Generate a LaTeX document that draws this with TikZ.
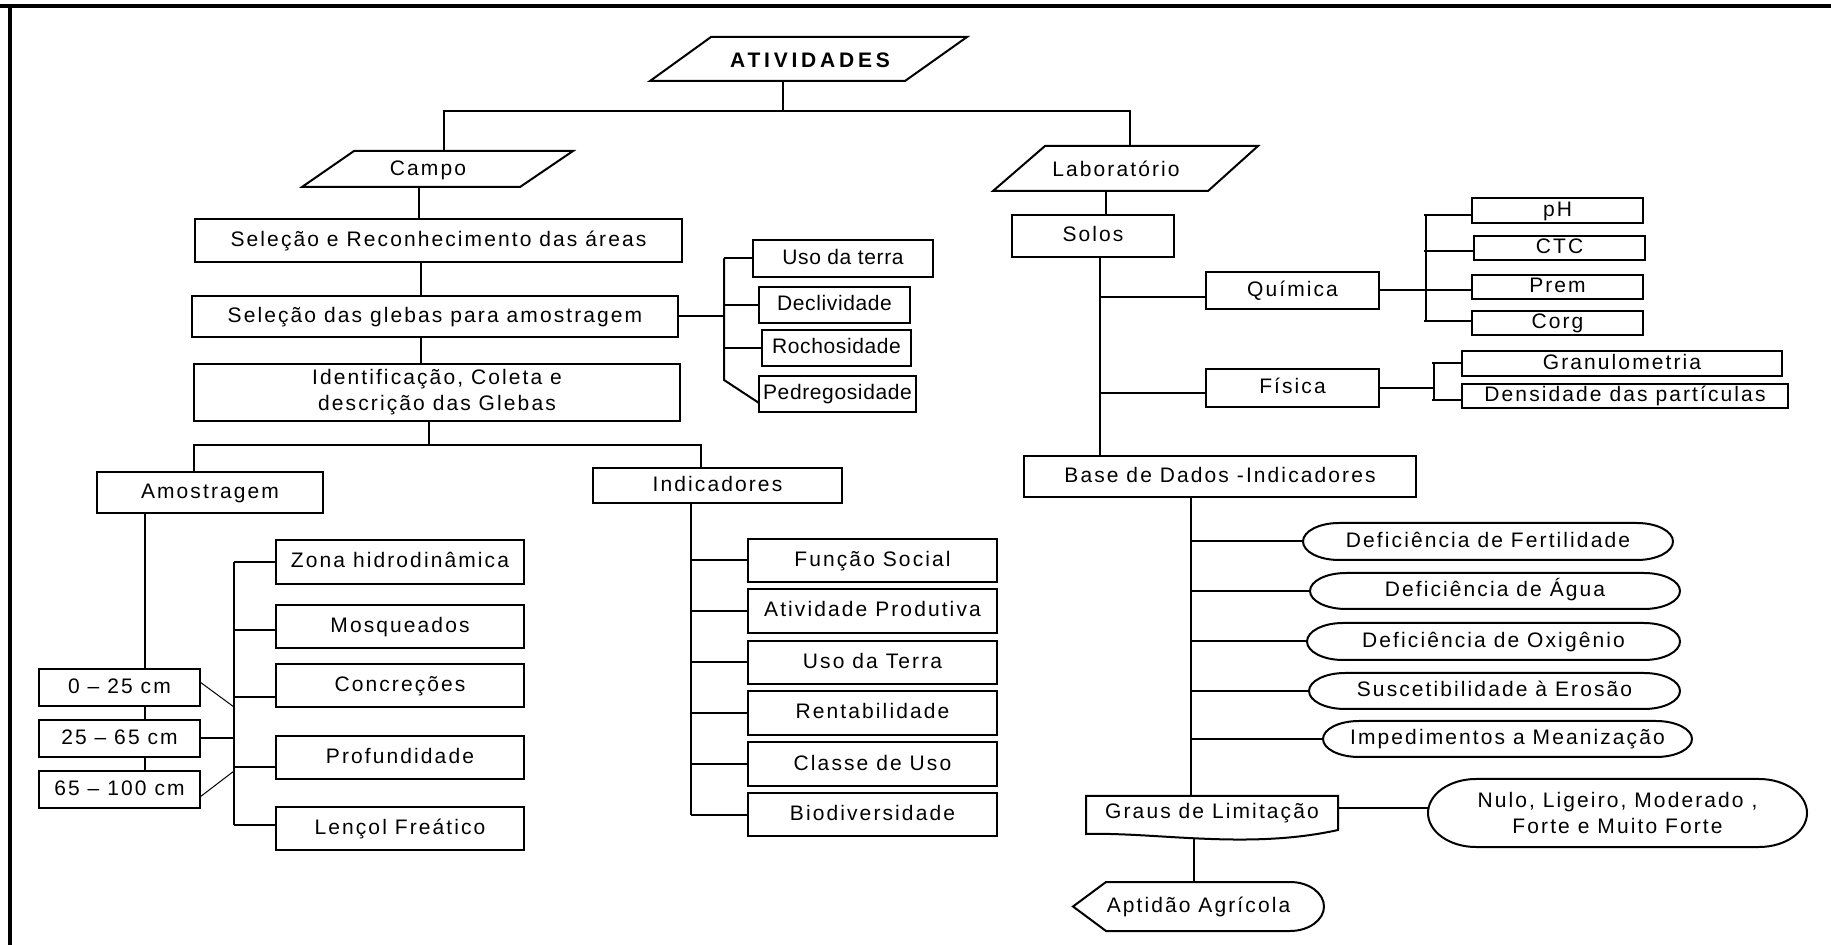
\documentclass[tikz,border=0pt]{standalone}
\usepackage{fontspec}
\setmainfont{Liberation Sans}[LetterSpace=10]
\newfontfamily\titlefont{Liberation Sans}[LetterSpace=18]
\newfontfamily\tightf{Liberation Sans}[LetterSpace=3]
\usetikzlibrary{calc}
\newcommand{\ovl}[3]{\draw[ln] ([xshift=#3]#1.north west) -- ([xshift=-#3]#1.north east) arc[start angle=90,end angle=-90,x radius=#3,y radius=#2] -- ([xshift=#3]#1.south west) arc[start angle=270,end angle=90,x radius=#3,y radius=#2] -- cycle;}
\newcommand{\bnode}[7][]{%
 \pgfmathsetmacro{\bcx}{(#3+#5)/2}%
 \pgfmathsetmacro{\bcy}{(#4+#6)/2}%
 \pgfmathsetmacro{\bww}{(#5-#3)/2}%
 \pgfmathsetmacro{\bhh}{(#6-#4)/2}%
 \node[bx,minimum width=\bww pt,minimum height=\bhh pt,#1] (#2) at (\bcx,\bcy) {#7};}
\begin{document}
\begin{tikzpicture}[x=0.5pt,y=-0.5pt,
  every node/.style={font=\fontsize{10.5}{13}\selectfont},
  bx/.style={draw, line width=1pt, inner sep=0pt, outer sep=0pt, align=center, text height=8.2pt, text depth=2.2pt},
  two/.style={text height=, text depth=},
  tx/.style={inner sep=0pt, outer sep=0pt, align=center},
  ln/.style={line width=1pt}]
\fill[white] (0,0) rectangle (1831,945);
\useasboundingbox (0,0) rectangle (1831,945);
% frame
\draw[line width=1.8pt] (0,5.8) -- (1831,5.8);
\draw[line width=2pt] (10,4) -- (10,945);

% ---- top level
\draw[ln] (711,37) -- (967,37) -- (905,81) -- (650,81) -- cycle;
\node[tx] (ativ) at (810,60) {\titlefont\bfseries ATIVIDADES};
\coordinate (ativB) at (783,81);
\coordinate (ativbus) at (783,111);

\draw[ln] (354,151) -- (573,151) -- (520,187) -- (302,187) -- cycle;
\node[tx] (campo) at (428,170) {Campo};
\coordinate (campoT) at (444,151);
\coordinate (campoB) at (419,187);

\draw[ln] (1045,146) -- (1258,146) -- (1208,191) -- (993,191) -- cycle;
\node[tx] (lab) at (1116,169) {Laboratório};
\coordinate (labT) at (1130,146);
\coordinate (labB) at (1106,191);

\draw[ln] (ativB) -- (ativbus);
\draw[ln] (campoT) -- (campoT |- ativbus) -- (labT |- ativbus) -- (labT);

% ---- Campo branch
\bnode{sel1}{195}{219}{682}{262}{Seleção e Reconhecimento das áreas}
\bnode{sel2}{192}{296}{678}{337}{Seleção das glebas para amostragem}
\bnode[two]{ident}{194}{364}{680}{421}{Identificação, Coleta e\\descrição das Glebas}
\coordinate (lcol) at (421,0);
\draw[ln] (campoB) -- (campoB |- sel1.north);
\draw[ln] (sel1.south -| lcol) -- (sel2.north -| lcol);
\draw[ln] (sel2.south -| lcol) -- (ident.north -| lcol);

% side list of sel2
\bnode{usot}{753}{240}{933}{277}{\tightf Uso da terra}
\bnode{decl}{759}{287}{910}{323}{\tightf Declividade}
\bnode{roch}{762}{330}{911}{366}{\tightf Rochosidade}
\bnode{pedr}{759}{376}{916}{412}{\tightf Pedregosidade}
\coordinate (sb) at (724,0);
\coordinate (sbEnd) at (724,380);
\draw[ln] (sel2.east) -- (sel2.east -| sb);
\draw[ln] (usot.west -| sb) -- (sbEnd) -- ([yshift=-4.5pt]pedr.west);
\draw[ln] (usot.west -| sb) -- (usot.west);
\draw[ln] (decl.west -| sb) -- (decl.west);
\draw[ln] (roch.west -| sb) -- (roch.west);

% split to Amostragem / Indicadores
\bnode{amost}{97}{472}{323}{513}{Amostragem}
\bnode{indic}{593}{468}{842}{503}{Indicadores}
\coordinate (bus2) at (429,445);
\coordinate (acol) at (194,0);
\coordinate (icol) at (701,0);
\draw[ln] (ident.south -| bus2) -- (bus2);
\draw[ln] (acol |- amost.north) -- (acol |- bus2) -- (icol |- bus2) -- (icol |- indic.north);

% Amostragem
\bnode{r1}{39}{669}{200}{706}{0 -- 25 cm}
\bnode{r2}{39}{720}{200}{757}{25 -- 65 cm}
\bnode{r3}{39}{771}{200}{808}{65 -- 100 cm}
\coordinate (acol2) at (145,0);
\draw[ln] (amost.south -| acol2) -- (r1.north -| acol2);
\draw[ln] (r1.south -| acol2) -- (r2.north -| acol2);
\draw[ln] (r2.south -| acol2) -- (r3.north -| acol2);

\bnode{zona}{276}{540}{524}{584}{Zona hidrodinâmica}
\bnode{mosq}{276}{605}{524}{648}{Mosqueados}
\bnode{conc}{276}{664}{524}{707}{Concreções}
\bnode{prof}{276}{736}{524}{779}{Profundidade}
\bnode{lenc}{276}{807}{524}{850}{Lençol Freático}
\draw[ln] (zona.west) -- ++(-42,0);
\draw[ln] ([yshift=-1.75pt]mosq.west) -- ++(-42,0);
\draw[ln] ([yshift=-5.75pt]conc.west) -- ++(-42,0);
\draw[ln] ([yshift=-4.75pt]prof.west) -- ++(-42,0);
\draw[ln] ([yshift=1.75pt]lenc.west) -- ++(-42,0);
\draw[ln] ([xshift=-21pt]zona.west) -- ([xshift=-21pt,yshift=1.75pt]lenc.west);
\draw[line width=0.5pt] ([yshift=2.75pt]r1.east) -- ++(34,25);
\draw[ln] (r2.east) -- ++(34,0);
\draw[line width=0.5pt] ([yshift=-3.75pt]r3.east) -- ++(34,-26);

% Indicadores
\bnode{func}{748}{539}{997}{582}{Função Social}
\bnode{ativp}{748}{589}{997}{633}{Atividade Produtiva}
\bnode{usoT}{748}{641}{997}{684}{Uso da Terra}
\bnode{rent}{748}{691}{997}{735}{Rentabilidade}
\bnode{classe}{748}{742}{997}{786}{Classe de Uso}
\bnode{bio}{748}{793}{997}{836}{Biodiversidade}
\coordinate (icol2) at (691,0);
\draw[ln] (indic.south -| icol2) -- (bio.west -| icol2);
\foreach \n in {func,ativp,usoT,rent,classe,bio}
  \draw[ln] (\n.west -| icol2) -- (\n.west);

% ---- Laboratório branch
\bnode{solos}{1012}{215}{1174}{257}{Solos}
\draw[ln] (labB) -- (labB |- solos.north);
\bnode{base}{1024}{456}{1416}{497}{Base de Dados -Indicadores}
\coordinate (rcol) at (1100,0);
\draw[ln] (solos.south -| rcol) -- (base.north -| rcol);

\bnode{quim}{1206}{272}{1379}{309}{Química}
\bnode{fis}{1206}{369}{1379}{407}{Física}
\draw[ln] ([yshift=-3.25pt]quim.west) -- ([yshift=-3.25pt]quim.west -| rcol);
\draw[ln] ([yshift=-2.5pt]fis.west) -- ([yshift=-2.5pt]fis.west -| rcol);

\bnode{ph}{1472}{198}{1643}{223}{pH}
\bnode{ctc}{1474}{236}{1645}{260}{CTC}
\bnode{prem}{1472}{275}{1643}{299}{Prem}
\bnode{corg}{1472}{311}{1643}{335}{Corg}
\draw[ln] (quim.east) -- (quim.east -| prem.west);
\draw[ln] ([yshift=-2.25pt]ph.west) -- ++(-48,0);
\draw[ln] ([yshift=-1.5pt]ctc.west) -- ++(-50,0);
\draw[ln] ([yshift=1pt]corg.west) -- ++(-48,0);
\draw[ln] ([xshift=-23pt,yshift=-2.25pt]ph.west) -- ([xshift=-23pt,yshift=1pt]corg.west);

\bnode{gran}{1462}{351}{1782}{376}{Granulometria}
\bnode{dens}{1462}{384}{1788}{408}{Densidade das partículas}
\draw[ln] (fis.east) -- ++(55,0);
\draw[ln] (gran.west) -- ++(-30,0);
\draw[ln] ([yshift=-2pt]dens.west) -- ++(-30,0);
\draw[ln] ([xshift=-14pt]gran.west) -- ([xshift=-14pt,yshift=-2pt]dens.west);

% limitations
\bnode[draw=none]{e1}{1303}{523}{1673}{560}{Deficiência de Fertilidade}
\bnode[draw=none]{e2}{1310}{573}{1680}{609}{Deficiência de Água}
\bnode[draw=none]{e3}{1307}{623}{1680}{660}{Deficiência de Oxigênio}
\bnode[draw=none]{e4}{1309}{673}{1680}{709}{Suscetibilidade à Erosão}
\bnode[draw=none]{e5}{1323}{721}{1692}{757}{Impedimentos a Meanização}
\ovl{e1}{9.25pt}{18pt}
\ovl{e2}{9pt}{18pt}
\ovl{e3}{9.25pt}{18pt}
\ovl{e4}{9pt}{18pt}
\ovl{e5}{9pt}{18pt}

\bnode[draw=none]{graus}{1086}{796}{1338}{830}{Graus de Limitação}
\draw[ln] (graus.south east) .. controls +(-90,20) and +(70,-2) .. ([yshift=-2pt]graus.south west) -- (graus.north west) -- (graus.north east) -- cycle;
\coordinate (bcol) at (1191,0);
\draw[ln] (base.south -| bcol) -- (graus.north -| bcol);
\foreach \n in {e1,e2,e3,e4,e5}
  \draw[ln] (\n.west -| bcol) -- (\n.west);

\bnode[draw=none,two]{nulo}{1428}{779}{1807}{847}{Nulo, Ligeiro, Moderado ,\\Forte e Muito Forte}
\ovl{nulo}{17pt}{24pt}
\draw[ln] ([yshift=2.5pt]graus.east) -- ([yshift=2.5pt]graus.east -| nulo.west);

\bnode[draw=none]{apt}{1073}{882}{1324}{931}{Aptidão Agrícola}
\draw[ln] ([xshift=16.5pt]apt.north west) -- ([xshift=-17pt]apt.north east) arc[start angle=90,end angle=-90,x radius=17pt,y radius=12.25pt] -- ([xshift=16.5pt]apt.south west) -- (apt.west) -- cycle;
\coordinate (gcol) at (1194,838);
\draw[ln] (gcol) -- (apt.north -| gcol);
\end{tikzpicture}
\end{document}
